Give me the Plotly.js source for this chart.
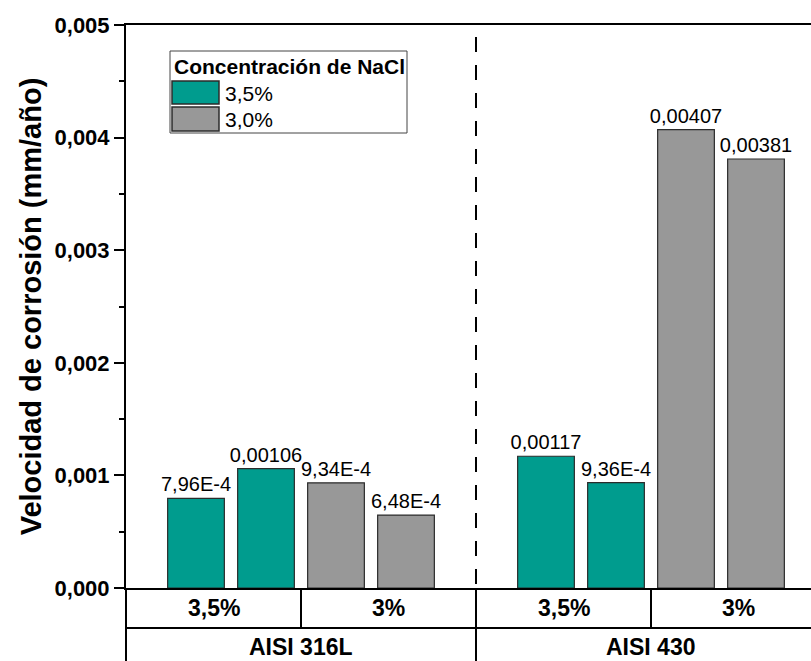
<!DOCTYPE html>
<html>
<head>
<meta charset="utf-8">
<script src="https://cdn.plot.ly/plotly-3.0.1.min.js"></script>
<style>
  html, body { margin: 0; padding: 0; overflow: hidden; background: #fff; }
  #chart { width: 840px; height: 661px; }
</style>
</head>
<body>
<div id="chart"></div>
<script>
// ---- data ----
const alloys = ['AISI 316L', 'AISI 430'];
const concentrations = ['3,5%', '3%'];
const legendNames = ['3,5%', '3,0%'];
const legendTitle = 'Concentración de NaCl';
const yTitle = 'Velocidad de corrosión (mm/año)';

// corrosion rate (mm/año), two samples per alloy, order: 316L, 316L, 430, 430
const rate35 = [0.000796, 0.00106, 0.00117, 0.000936];
const labels35 = ['7,96E-4', '0,00106', '0,00117', '9,36E-4'];
const rate30 = [0.000934, 0.000648, 0.00407, 0.00381];
const labels30 = ['9,34E-4', '6,48E-4', '0,00407', '0,00381'];

// ---- layout helpers ----
const FONT = 'Liberation Sans, Arial, Helvetica, sans-serif';
const TEAL = '#009c8e';
const GRAY = '#989898';
const L = 126, T = 25, PW = 700, PH = 563;
const XMAX = 10;
const px = x => x / XMAX;                 // data x -> paper x
const pxX = pix => (pix - L) / PW;        // pixel x -> paper x
const pyY = pix => (T + PH - pix) / PH;   // pixel y -> paper y

// slot positions: alloy a, concentration c, sample r
function slot(a, c, r) { return 1 + a * 5 + c * 2 + r; }
const x35 = [], x30 = [];
for (let a = 0; a < alloys.length; a++) {
  for (let r = 0; r < 2; r++) { x35.push(slot(a, 0, r)); x30.push(slot(a, 1, r)); }
}

const barCommon = {
  type: 'bar', width: 0.81, textposition: 'outside', cliponaxis: false,
  constraintext: 'none', showlegend: false, hoverinfo: 'y',
  textfont: { family: FONT, size: 20, color: '#000' }
};
const traces = [
  Object.assign({}, barCommon, {
    name: legendNames[0], x: x35, y: rate35, text: labels35,
    marker: { color: TEAL, line: { color: '#2b2b2b', width: 1.2 } }
  }),
  Object.assign({}, barCommon, {
    name: legendNames[1], x: x30, y: rate30, text: labels30,
    marker: { color: GRAY, line: { color: '#2b2b2b', width: 1.2 } }
  })
];

const shapes = [];
const line = (x0, y0, x1, y1, extra) => Object.assign({
  type: 'line', xref: 'paper', yref: 'paper', x0, y0, x1, y1,
  line: { color: '#000', width: 2 }, layer: 'above'
}, extra || {});

// dashed divider between alloys
shapes.push(line(px(5), pyY(37), px(5), 0, { line: { color: '#000', width: 2, dash: '15px,13px' } }));
// category table below the axis
const rowBottom = pyY(628);
shapes.push(line(pxX(125), rowBottom, 1, rowBottom));
shapes.push(line(0, 0, 0, pyY(670), { x0: pxX(126), x1: pxX(126) }));
shapes.push(line(px(5), 0, px(5), pyY(670)));
shapes.push(line(px(2.5), 0, px(2.5), rowBottom));
shapes.push(line(px(7.5), 0, px(7.5), rowBottom));

// manual legend
shapes.push({ type: 'rect', xref: 'paper', yref: 'paper',
  x0: pxX(170), x1: pxX(407), y0: pyY(51), y1: pyY(133),
  line: { color: '#444', width: 1 }, fillcolor: 'rgba(255,255,255,0)', layer: 'above' });
shapes.push({ type: 'rect', xref: 'paper', yref: 'paper',
  x0: pxX(172), x1: pxX(219), y0: pyY(81), y1: pyY(104),
  line: { color: '#2b2b2b', width: 1.5 }, fillcolor: TEAL, layer: 'above' });
shapes.push({ type: 'rect', xref: 'paper', yref: 'paper',
  x0: pxX(172), x1: pxX(219), y0: pyY(107), y1: pyY(131),
  line: { color: '#2b2b2b', width: 1.5 }, fillcolor: GRAY, layer: 'above' });

const annotations = [];
annotations.push({ xref: 'paper', yref: 'paper', x: pxX(172), y: pyY(67), xanchor: 'left', yanchor: 'middle',
  text: legendTitle, showarrow: false, font: { family: FONT, size: 21, color: '#000', weight: 'bold' } });
annotations.push({ xref: 'paper', yref: 'paper', x: pxX(223), y: pyY(93), xanchor: 'left', yanchor: 'middle',
  text: legendNames[0], showarrow: false, font: { family: FONT, size: 21, color: '#000' } });
annotations.push({ xref: 'paper', yref: 'paper', x: pxX(223), y: pyY(120), xanchor: 'left', yanchor: 'middle',
  text: legendNames[1], showarrow: false, font: { family: FONT, size: 21, color: '#000' } });

for (let a = 0; a < alloys.length; a++) {
  for (let c = 0; c < concentrations.length; c++) {
    annotations.push({ xref: 'paper', yref: 'paper', x: px(a * 5 + c * 2.5 + 1.25), y: pyY(608),
      xanchor: 'center', yanchor: 'middle', showarrow: false, text: concentrations[c],
      font: { family: FONT, size: 23, color: '#000', weight: 'bold' } });
  }
  annotations.push({ xref: 'paper', yref: 'paper', x: px(a * 5 + 2.5), y: pyY(647),
    xanchor: 'center', yanchor: 'middle', showarrow: false, text: alloys[a],
    font: { family: FONT, size: 23, color: '#000', weight: 'bold' } });
}

const layout = {
  width: 840, height: 661,
  margin: { l: L, r: 840 - L - PW, t: T, b: 661 - T - PH, pad: 0 },
  paper_bgcolor: '#fff', plot_bgcolor: '#fff',
  separators: ',.',
  barmode: 'overlay',
  xaxis: {
    range: [0, XMAX], showline: true, linewidth: 2, linecolor: '#000', mirror: true,
    showticklabels: false, ticks: '', showgrid: false, zeroline: false, fixedrange: true
  },
  yaxis: {
    range: [0, 0.005], tickmode: 'linear', tick0: 0, dtick: 0.001, tickformat: '.3f',
    showline: true, linewidth: 2, linecolor: '#000', mirror: false,
    ticks: 'outside', ticklen: 10, tickwidth: 2, tickcolor: '#000',
    minor: { dtick: 0.0005, ticks: 'outside', ticklen: 5, tickwidth: 2, tickcolor: '#000', showgrid: false },
    showgrid: false, zeroline: false, fixedrange: true,
    tickfont: { family: FONT, size: 22, color: '#000', weight: 'bold' },
    title: { text: yTitle, standoff: 4, font: { family: FONT, size: 29, color: '#000', weight: 'bold' } }
  },
  shapes, annotations
};

Plotly.newPlot('chart', traces, layout, { displayModeBar: false, staticPlot: true });
</script>
</body>
</html>
